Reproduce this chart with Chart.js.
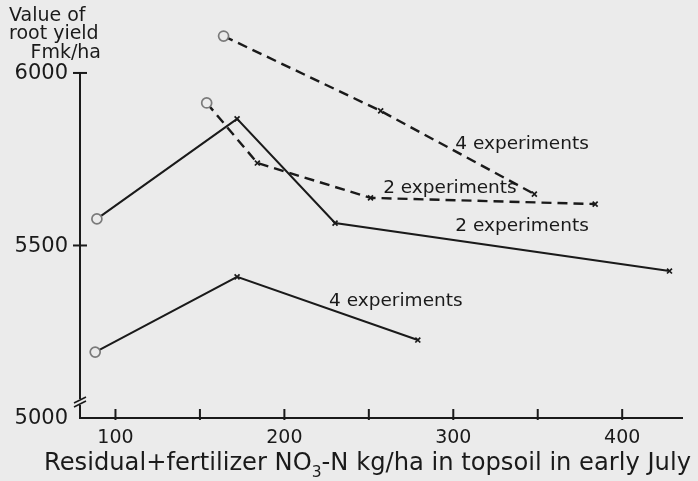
<!DOCTYPE html>
<html>
<head>
<meta charset="utf-8">
<script src="https://cdn.jsdelivr.net/npm/chart.js@4/dist/chart.umd.min.js"></script>
<style>
  html, body { margin: 0; padding: 0; background: #ebebeb; }
  #wrap { width: 698px; height: 481px; }
</style>
</head>
<body>
<div id="wrap"><canvas id="c" width="698" height="481"></canvas></div>
<script>
// ---- Data ----
const solid2X = [89, 172, 230, 428];
const solid2Y = [5577, 5867, 5565, 5426];
const solid4X = [88, 172, 279];
const solid4Y = [5191, 5409, 5226];
const dashed4X = [164, 257, 348];
const dashed4Y = [6107, 5890, 5649];
const dashed2X = [154, 184, 251, 384];
const dashed2Y = [5913, 5739, 5638, 5620];

const xTickValues = [100, 150, 200, 250, 300, 350, 400];
const xTickLabels = ['100', '', '200', '', '300', '', '400'];
const yTickValues = [5000, 5500, 6000];
const yTickLabels = ['5000', '5500', '6000'];

const seriesLabels = ['2 experiments', '4 experiments', '4 experiments', '2 experiments'];
// label anchor (data coordinates) for each series' in-plot text
const labelAnchorX = [340.7, 266, 340.7, 298];
const labelAnchorY = [5557, 5339, 5794, 5667];

const INK = '#1a1a1a';
const BG = '#ebebeb';
const FONT = '"DejaVu Sans", sans-serif';

function pts(xs, ys) { return xs.map((x, i) => ({ x: x, y: ys[i] })); }
function styles(n) { return Array.from({ length: n }, (_, i) => i === 0 ? 'circle' : 'crossRot'); }
function radii(n) { return Array.from({ length: n }, (_, i) => i === 0 ? 5 : 3.5); }
function pColors(n) { return Array.from({ length: n }, (_, i) => i === 0 ? '#7a7a7a' : INK); }

function ds(label, xs, ys, dashed) {
  return {
    label: label,
    data: pts(xs, ys),
    borderColor: INK,
    borderWidth: dashed ? 2.4 : 2,
    borderDash: dashed ? [10, 6] : [],
    pointStyle: styles(xs.length),
    pointRadius: radii(xs.length),
    pointBorderColor: pColors(xs.length),
    pointBorderWidth: 1.7,
    pointBackgroundColor: BG,
    fill: false,
    tension: 0,
    clip: false
  };
}

const bgPlugin = {
  id: 'bg',
  beforeDraw(chart) {
    const ctx = chart.ctx;
    ctx.save();
    ctx.fillStyle = BG;
    ctx.fillRect(0, 0, chart.width, chart.height);
    ctx.restore();
  }
};

const axesPlugin = {
  id: 'axesDraw',
  beforeDatasetsDraw(chart) {
    const ctx = chart.ctx;
    const xs = chart.scales.x, ys = chart.scales.y;
    const x0 = chart.chartArea.left;
    const yBase = ys.getPixelForValue(5000);
    const yTop = ys.getPixelForValue(6000);
    const xRight = chart.chartArea.right;
    ctx.save();
    ctx.strokeStyle = INK;
    ctx.fillStyle = INK;
    ctx.lineWidth = 2;
    // axes
    ctx.beginPath();
    ctx.moveTo(x0, yTop);
    ctx.lineTo(x0, yBase);
    ctx.lineTo(xRight, yBase);
    ctx.stroke();
    // axis break mark
    ctx.lineWidth = 1.6;
    const by = yBase - 16;
    ctx.fillStyle = BG;
    ctx.fillRect(x0 - 3, by - 3, 6, 6);
    ctx.beginPath();
    ctx.moveTo(x0 - 6, by + 1); ctx.lineTo(x0 + 6, by - 5);
    ctx.moveTo(x0 - 6, by + 5); ctx.lineTo(x0 + 6, by - 1);
    ctx.stroke();
    // y ticks and labels
    ctx.lineWidth = 2;
    ctx.fillStyle = INK;
    ctx.font = '21px ' + FONT;
    ctx.textAlign = 'right';
    ctx.textBaseline = 'middle';
    yTickValues.forEach((v, i) => {
      const py = ys.getPixelForValue(v);
      if (v !== 5000) {
        ctx.beginPath();
        ctx.moveTo(x0 - 7, py); ctx.lineTo(x0 + 7, py);
        ctx.stroke();
      }
      ctx.fillText(yTickLabels[i], x0 - 12, py + 1);
    });
    // x ticks and labels
    ctx.textAlign = 'center';
    ctx.textBaseline = 'middle';
    ctx.font = '19px ' + FONT;
    xTickValues.forEach((v, i) => {
      const px = xs.getPixelForValue(v);
      ctx.beginPath();
      ctx.moveTo(px, yBase + 2); ctx.lineTo(px, yBase - 9);
      ctx.stroke();
      if (xTickLabels[i]) ctx.fillText(xTickLabels[i], px, yBase + 20);
    });
    // axis title with subscript
    ctx.textAlign = 'left';
    ctx.textBaseline = 'alphabetic';
    const bigSize = 24.2, smallSize = 15.5;
    const parts = [
      ['Residual+fertilizer NO', bigSize, 0],
      ['3', smallSize, 7],
      ['-N kg/ha in topsoil in early July', bigSize, 0]
    ];
    let total = 0;
    parts.forEach(p => { ctx.font = p[1] + 'px ' + FONT; total += ctx.measureText(p[0]).width; });
    let tx = 367.5 - total / 2;
    const tb = 470;
    parts.forEach(p => {
      ctx.font = p[1] + 'px ' + FONT;
      ctx.fillText(p[0], tx, tb + p[2]);
      tx += ctx.measureText(p[0]).width;
    });
    // y axis title
    ctx.font = '19px ' + FONT;
    ctx.textBaseline = 'middle';
    ctx.textAlign = 'left';
    ctx.fillText('Value of', 9, 16);
    ctx.fillText('root yield', 9, 34);
    ctx.textAlign = 'right';
    ctx.fillText('Fmk/ha', 101, 53);
    ctx.restore();
  },
  afterDatasetsDraw(chart) {
    const ctx = chart.ctx;
    const xs = chart.scales.x, ys = chart.scales.y;
    ctx.save();
    ctx.fillStyle = INK;
    ctx.font = '18.5px ' + FONT;
    ctx.textAlign = 'center';
    ctx.textBaseline = 'middle';
    seriesLabels.forEach((t, i) => {
      ctx.fillText(t, xs.getPixelForValue(labelAnchorX[i]), ys.getPixelForValue(labelAnchorY[i]));
    });
    ctx.restore();
  }
};

new Chart(document.getElementById('c'), {
  type: 'line',
  data: {
    datasets: [
      ds('Solid, 2 experiments', solid2X, solid2Y, false),
      ds('Solid, 4 experiments', solid4X, solid4Y, false),
      ds('Dashed, 4 experiments', dashed4X, dashed4Y, true),
      ds('Dashed, 2 experiments', dashed2X, dashed2Y, true)
    ]
  },
  options: {
    responsive: false,
    animation: false,
    layout: { padding: { left: 80, right: 15, top: 35, bottom: 63 } },
    plugins: { legend: { display: false }, tooltip: { enabled: false } },
    scales: {
      x: { type: 'linear', min: 79, max: 436, display: false },
      y: { type: 'linear', min: 5000, max: 6110, display: false }
    }
  },
  plugins: [bgPlugin, axesPlugin]
});
</script>
</body>
</html>
